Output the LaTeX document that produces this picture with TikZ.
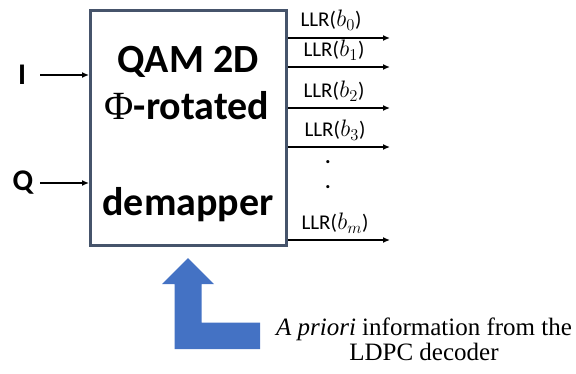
\documentclass[tikz,border=0pt]{standalone}
\usepackage{fontspec}
\usepackage{graphicx}
\setmainfont{Carlito}
\newfontfamily\tnr{Liberation Serif}
\usetikzlibrary{arrows.meta}
\definecolor{boxgray}{HTML}{46546B}
\definecolor{arrblue}{HTML}{4472C4}
\tikzset{
  sig/.style={line width=1.3pt,-{Latex[length=7pt,width=6pt]}},
  llr/.style={font=\fontsize{21}{24}\selectfont,inner sep=0pt},
  inlab/.style={font=\fontsize{30}{32}\selectfont\bfseries,inner sep=0pt},
  boxtxt/.style={font=\fontsize{40}{42}\selectfont\bfseries,inner sep=0pt},
}
\newcommand{\llrb}[1]{LLR(\kern0.5pt\scalebox{1.15}{$b_{#1}$})}
\begin{document}
\begin{tikzpicture}[x=1pt,y=-1pt]
\useasboundingbox (0,0) rectangle (576,373);
\node[draw=boxgray,line width=3pt,minimum width=196pt,minimum height=235pt,inner sep=0pt] (box) at (188.5,128) {};
\node[boxtxt] (t1) at (188,62) {QAM 2D};
\node[boxtxt] (t2) at (187,106) {{\tnr\mdseries Φ}-rotated};
\node[boxtxt] (t3) at (188,205) {demapper};
% inputs
\node[inlab] (I) at (22,75) {I};
\node[inlab] (Q) at (23,183) {Q};
\coordinate (ia) at (40,75);
\coordinate (qa) at (40,183);
\draw[sig] (ia) -- (box.west |- ia);
\draw[sig] (qa) -- (box.west |- qa);
% outputs
\coordinate (o0) at (390,38);
\coordinate (o1) at (390,67);
\coordinate (o2) at (390,108);
\coordinate (o3) at (390,147);
\coordinate (om) at (390,240);
\foreach \c in {o0,o1,o2,o3,om}{\draw[sig] (box.east |- \c) -- (\c);}
\node[llr] (l0) at (331,20) {\llrb{0}};
\node[llr] (l1) at (334,50) {\llrb{1}};
\node[llr] (l2) at (334,91) {\llrb{2}};
\node[llr] (l3) at (335,130) {\llrb{3}};
\node[llr] (d1) at (328,162) {\textbf{.}};
\node[llr] (d2) at (328,187) {\textbf{.}};
\node[llr] (lm) at (335,223) {\llrb{m}};
% blue arrow
\fill[arrblue] (188,258) -- (214,284) -- (201.5,284) -- (201.5,322.5) -- (260,322.5) -- (260,349) -- (174.5,349) -- (174.5,284) -- (162,284) -- cycle;
\node[font=\tnr\fontsize{25}{25}\selectfont,align=center,inner sep=0pt] (apr) at (424,339) {\textit{A priori} information from the\\LDPC decoder};
\end{tikzpicture}
\end{document}
